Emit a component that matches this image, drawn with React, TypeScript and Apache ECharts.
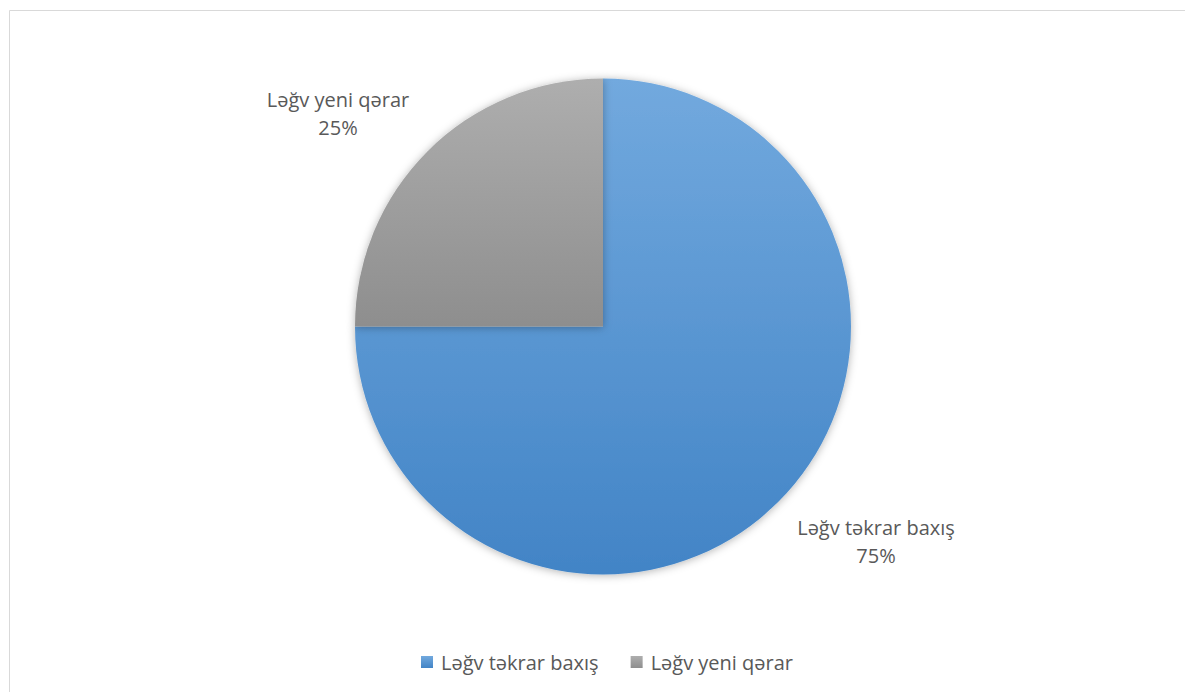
import React, { useEffect, useRef } from "react";
import * as echarts from "echarts";

const categories = ["Ləğv təkrar baxış", "Ləğv yeni qərar"];
const values = [75, 25];
const topColors = ["#72A9DE", "#AEAEAE"];
const bottomColors = ["#4284C6", "#8E8E8E"];
const labelPos = [
  [876, 541],
  [338, 113],
];

export default function App() {
  const ref = useRef<HTMLDivElement>(null);
  useEffect(() => {
    document.body.style.margin = "0";
    document.body.style.overflow = "hidden";
    const chart = echarts.init(ref.current!, undefined, { renderer: "svg" });
    const font = "'Open Sans', 'Noto Sans', sans-serif";
    chart.setOption({
      animation: false,
      backgroundColor: "#ffffff",
      graphic: [
        {
          type: "rect",
          shape: { x: 9.5, y: 10.5, width: 1300, height: 800 },
          style: { fill: "none", stroke: "#D9D9D9", lineWidth: 1 },
          silent: true,
          z: -10,
        },
      ],
      legend: {
        top: 651,
        left: 421,
        padding: 0,
        itemWidth: 12,
        itemHeight: 12,
        itemGap: 32,
        icon: "rect",
        textStyle: {
          fontFamily: font,
          fontSize: 20,
          lineHeight: 22,
          color: "#595959",
          padding: [0, 0, 0, 3],
        },
        data: categories,
      },
      series: [
        {
          type: "pie",
          center: [603, 326.5],
          radius: [0, 248],
          startAngle: 90,
          clockwise: true,
          avoidLabelOverlap: false,
          labelLine: { show: false },
          label: {
            show: true,
            position: "outside",
            formatter: "{b}\n{d}%",
            fontFamily: font,
            fontSize: 20,
            lineHeight: 28,
            color: "#595959",
            align: "center",
          },
          labelLayout: (p: any) => {
            const pos = labelPos[p.dataIndex];
            return { x: pos[0], y: pos[1], align: "center", verticalAlign: "middle" };
          },
          itemStyle: {
            shadowBlur: 8,
            shadowColor: "rgba(0,0,0,0.3)",
            shadowOffsetY: 1,
          },
          data: categories.map((name, i) => ({
            name,
            value: values[i],
            itemStyle: {
              color: new echarts.graphic.LinearGradient(0, 0, 0, 1, [
                { offset: 0, color: topColors[i] },
                { offset: 1, color: bottomColors[i] },
              ]),
            },
          })),
        },
      ],
    });
    return () => chart.dispose();
  }, []);
  return <div ref={ref} style={{ width: 1185, height: 692 }} />;
}
